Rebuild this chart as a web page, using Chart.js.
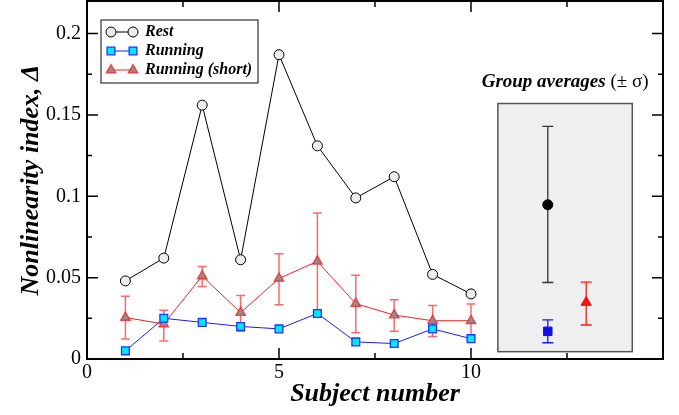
<!DOCTYPE html>
<html>
<head>
<meta charset="utf-8">
<script src="https://cdn.jsdelivr.net/npm/chart.js@4.4.1/dist/chart.umd.min.js"></script>
<style>
  html, body { margin: 0; padding: 0; background: #fff; }
  #wrap { width: 679px; height: 415px; }
</style>
</head>
<body>
<div id="wrap"><canvas id="chart" width="679" height="415"></canvas></div>
<script>
// subject-by-subject values
var subjects = [1, 2, 3, 4, 5, 6, 7, 8, 9, 10];
var restVals = [0.048, 0.062, 0.156, 0.061, 0.187, 0.131, 0.099, 0.112, 0.052, 0.040];
var runVals = [0.005, 0.025, 0.0225, 0.020, 0.0185, 0.028, 0.0105, 0.0095, 0.0185, 0.0125];
var shortVals = [0.0255, 0.0215, 0.051, 0.0285, 0.0495, 0.060, 0.034, 0.027, 0.0235, 0.0235];
var shortLow = [0.0123, 0.0111, 0.0446, 0.017, 0.0334, 0.0289, 0.0162, 0.017, 0.0139, 0.0127];
var shortHigh = [0.0385, 0.0299, 0.0569, 0.039, 0.0647, 0.0897, 0.0514, 0.0364, 0.0329, 0.0338];

// group averages (+/- sigma): rest, running, running (short)
var groupX = [12, 12, 13];
var groupMean = [0.0948, 0.017, 0.0348];
var groupLow = [0.047, 0.010, 0.0209];
var groupHigh = [0.1429, 0.024, 0.0473];

var legendLabels = ['Rest', 'Running', 'Running (short)'];

var SERIF = '"Liberation Serif", "Times New Roman", serif';

function pts(xs, ys) {
    return xs.map(function (x, i) { return { x: x, y: ys[i] }; });
}

function errorBar(ctx, xs, ys, x, lo, hi, half, color, width) {
    var px = xs.getPixelForValue(x);
    var p1 = ys.getPixelForValue(lo);
    var p2 = ys.getPixelForValue(hi);
    ctx.strokeStyle = color;
    ctx.lineWidth = width;
    ctx.beginPath();
    ctx.moveTo(px, p1); ctx.lineTo(px, p2);
    ctx.moveTo(px - half, p1); ctx.lineTo(px + half, p1);
    ctx.moveTo(px - half, p2); ctx.lineTo(px + half, p2);
    ctx.stroke();
}

var decor = {
    id: 'decor',
    beforeDatasetsDraw: function (chart) {
        var ctx = chart.ctx, xs = chart.scales.x, ys = chart.scales.y;
        ctx.save();
        // grey panel behind the group averages
        var bx1 = xs.getPixelForValue(10.7), bx2 = xs.getPixelForValue(14.2);
        var by1 = ys.getPixelForValue(0.157), by2 = ys.getPixelForValue(0.0045);
        ctx.fillStyle = '#efefef';
        ctx.fillRect(bx1, by1, bx2 - bx1, by2 - by1);
        ctx.strokeStyle = '#555';
        ctx.lineWidth = 1.5;
        ctx.strokeRect(bx1, by1, bx2 - bx1, by2 - by1);

        for (var i = 0; i < subjects.length; i++) {
            errorBar(ctx, xs, ys, subjects[i], shortLow[i], shortHigh[i], 4.5, 'rgba(255,40,40,0.7)', 1.5);
        }
        var gcol = ['#333', '#1a1aff', '#ff1a1a'];
        for (var j = 0; j < groupX.length; j++) {
            errorBar(ctx, xs, ys, groupX[j], groupLow[j], groupHigh[j], 5.5, gcol[j], 1.3);
        }
        ctx.restore();
    },
    afterDraw: function (chart) {
        var ctx = chart.ctx, a = chart.chartArea, xs = chart.scales.x, ys = chart.scales.y;
        ctx.save();
        // inward ticks on all four sides
        ctx.strokeStyle = '#000';
        ctx.lineWidth = 1.5;
        ctx.beginPath();
        for (var v = 0; v <= 15.001; v += 2.5) {
            var px = xs.getPixelForValue(v);
            var len = (Math.round(v / 2.5) % 2 === 0) ? 11 : 6;
            ctx.moveTo(px, a.bottom); ctx.lineTo(px, a.bottom - len);
            ctx.moveTo(px, a.top); ctx.lineTo(px, a.top + len);
        }
        for (var k = 0; k <= 8; k++) {
            var py = ys.getPixelForValue(k * 0.025);
            var l2 = (k % 2 === 0) ? 11 : 5;
            ctx.moveTo(a.left, py); ctx.lineTo(a.left + l2, py);
            ctx.moveTo(a.right, py); ctx.lineTo(a.right - l2, py);
        }
        ctx.stroke();
        // frame
        ctx.lineWidth = 2;
        ctx.strokeRect(a.left, a.top, a.right - a.left, a.bottom - a.top);

        // group averages heading
        ctx.fillStyle = '#000';
        ctx.textBaseline = 'alphabetic';
        ctx.font = 'italic bold 19px ' + SERIF;
        var t1 = 'Group averages ';
        var w1 = ctx.measureText(t1).width;
        ctx.font = '19px ' + SERIF;
        var t2 = '(\u00B1 \u03C3)';
        var w2 = ctx.measureText(t2).width;
        var cx = (xs.getPixelForValue(10.7) + xs.getPixelForValue(14.2)) / 2;
        var sx = cx - (w1 + w2) / 2;
        ctx.font = 'italic bold 19px ' + SERIF;
        ctx.fillText(t1, sx, 87);
        ctx.font = '19px ' + SERIF;
        ctx.fillText(t2, sx + w1, 87);

        // legend
        var lx = 101, ly = 20, lw = 157, lh = 63;
        ctx.fillStyle = '#fff';
        ctx.fillRect(lx, ly, lw, lh);
        ctx.strokeStyle = '#333';
        ctx.lineWidth = 1.2;
        ctx.strokeRect(lx, ly, lw, lh);
        var rows = [32, 51, 70];
        var ds = chart.data.datasets;
        for (var r = 0; r < 3; r++) {
            var d = ds[r];
            ctx.strokeStyle = d.borderColor;
            ctx.lineWidth = 1;
            ctx.beginPath();
            ctx.moveTo(111, rows[r]); ctx.lineTo(133, rows[r]);
            ctx.stroke();
            [111, 133].forEach(function (mx) {
                ctx.fillStyle = d.pointBackgroundColor;
                ctx.strokeStyle = d.pointBorderColor;
                ctx.lineWidth = d.pointBorderWidth;
                Chart.helpers.drawPoint(ctx, { pointStyle: d.pointStyle, radius: d.pointRadius, rotation: 0, borderWidth: d.pointBorderWidth }, mx, rows[r]);
            });
            ctx.fillStyle = '#000';
            ctx.font = 'italic bold 16px ' + SERIF;
            ctx.textBaseline = 'middle';
            ctx.fillText(legendLabels[r], 145, rows[r]);
        }
        ctx.restore();
    }
};

new Chart(document.getElementById('chart'), {
    type: 'scatter',
    data: {
        datasets: [{
            label: legendLabels[0],
            data: pts(subjects, restVals),
            showLine: true,
            borderColor: '#000',
            borderWidth: 1,
            pointStyle: 'circle',
            pointRadius: 5,
            pointBackgroundColor: '#ececec',
            pointBorderColor: '#000',
            pointBorderWidth: 1
        }, {
            label: legendLabels[1],
            data: pts(subjects, runVals),
            showLine: true,
            borderColor: '#1a1aff',
            borderWidth: 1,
            pointStyle: 'rect',
            pointRadius: 5.5,
            pointBackgroundColor: '#00e8ff',
            pointBorderColor: '#2233ff',
            pointBorderWidth: 1.3
        }, {
            label: legendLabels[2],
            data: pts(subjects, shortVals),
            showLine: true,
            borderColor: '#ff1a1a',
            borderWidth: 1,
            pointStyle: 'triangle',
            pointRadius: 5.5,
            pointBackgroundColor: '#8e8e8e',
            pointBorderColor: 'rgba(255,30,30,0.8)',
            pointBorderWidth: 1.3
        }, {
            label: 'avg rest',
            data: pts([groupX[0]], [groupMean[0]]),
            pointStyle: 'circle',
            pointRadius: 5,
            pointBackgroundColor: '#000',
            pointBorderColor: '#000'
        }, {
            label: 'avg running',
            data: pts([groupX[1]], [groupMean[1]]),
            pointStyle: 'rect',
            pointRadius: 6,
            pointBackgroundColor: '#1010ee',
            pointBorderColor: '#1010ee'
        }, {
            label: 'avg short',
            data: pts([groupX[2]], [groupMean[2]]),
            pointStyle: 'triangle',
            pointRadius: 6,
            pointBackgroundColor: '#ff1010',
            pointBorderColor: '#ff1010'
        }]
    },
    options: {
        responsive: false,
        animation: false,
        layout: { autoPadding: false, padding: { left: 0, right: 16, top: 1, bottom: 0 } },
        plugins: { legend: { display: false }, tooltip: { enabled: false } },
        scales: {
            x: {
                type: 'linear',
                min: 0, max: 15,
                grid: { display: false, drawTicks: false },
                border: { display: false },
                afterFit: function (s) { s.height = 56; s.paddingLeft = 0; s.paddingRight = 0; },
                ticks: {
                    stepSize: 5,
                    padding: 2,
                    color: '#000',
                    font: { family: SERIF, size: 20 },
                    callback: function (v) { return v === 15 ? '' : String(v); }
                },
                title: {
                    display: true,
                    text: 'Subject number',
                    color: '#000',
                    font: { family: SERIF, size: 26, style: 'italic', weight: 'bold' },
                    padding: { top: 0, bottom: 5 }
                }
            },
            y: {
                min: 0, max: 0.22,
                grid: { display: false, drawTicks: false },
                border: { display: false },
                afterFit: function (s) { s.width = 87; s.paddingTop = 0; s.paddingBottom = 0; },
                ticks: {
                    stepSize: 0.05,
                    padding: 6,
                    color: '#000',
                    font: { family: SERIF, size: 20 },
                    callback: function (v) {
                        var q = v / 0.05;
                        return Math.abs(q - Math.round(q)) < 1e-6 ? String(+v.toFixed(2)) : '';
                    }
                },
                title: {
                    display: true,
                    text: 'Nonlinearity index, \u0394',
                    color: '#000',
                    font: { family: SERIF, size: 26, style: 'italic', weight: 'bold' },
                    padding: { top: 16, bottom: 0 }
                }
            }
        }
    },
    plugins: [decor]
});
</script>
</body>
</html>
